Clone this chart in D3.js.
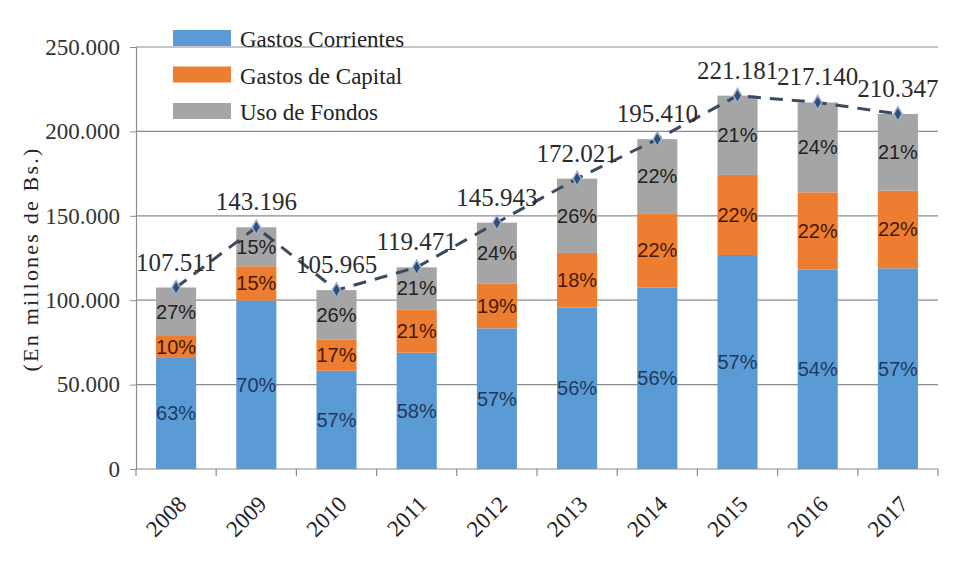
<!DOCTYPE html>
<html>
<head>
<meta charset="utf-8">
<script src="https://cdn.jsdelivr.net/npm/d3@7"></script>
<style>
  body { margin: 0; background: #fff; }
  svg { display: block; }
  .serif { font-family: "Liberation Serif", "Times New Roman", "DejaVu Serif", serif; }
  .sans { font-family: "Liberation Sans", Arial, sans-serif; }
</style>
</head>
<body>
<div id="chart"></div>
<script>
const years = ["2008", "2009", "2010", "2011", "2012", "2013", "2014", "2015", "2016", "2017"];
const seriesNames = ["Gastos Corrientes", "Gastos de Capital", "Uso de Fondos"];
const corrientes = [65800, 99800, 58200, 68900, 83300, 95600, 107600, 126800, 118300, 118900];
const capital = [13000, 20300, 18600, 25700, 26700, 32400, 43900, 47400, 45600, 46000];
const fondos = [28711, 23096, 29165, 24871, 35943, 44021, 43910, 46981, 53240, 45447];
const totals = [107511, 143196, 105965, 119471, 145943, 172021, 195410, 221181, 217140, 210347];
const pctCorrientes = ["63%", "70%", "57%", "58%", "57%", "56%", "56%", "57%", "54%", "57%"];
const pctCapital = ["10%", "15%", "17%", "21%", "19%", "18%", "22%", "22%", "22%", "22%"];
const pctFondos = ["27%", "15%", "26%", "21%", "24%", "26%", "22%", "21%", "24%", "21%"];
const yTicks = [0, 50000, 100000, 150000, 200000, 250000];

const colors = ["#5b9bd5", "#ed7d31", "#a5a5a5"];
const textColors = ["#1f3a60", "#4a1800", "#222222"];

const W = 980, H = 567;
const margin = { top: 47, right: 42, bottom: 98, left: 136 };
const width = W - margin.left - margin.right;
const height = H - margin.top - margin.bottom;

const fmt = d3.formatLocale({ decimal: ",", thousands: ".", grouping: [3], currency: ["", ""] }).format(",");

const svg = d3.select("#chart").append("svg")
    .attr("width", W)
    .attr("height", H);

const g = svg.append("g")
    .attr("transform", `translate(${margin.left},${margin.top})`);

const x = d3.scaleBand()
    .domain(years)
    .range([0, width])
    .paddingInner(0.5)
    .paddingOuter(0.25);

const y = d3.scaleLinear()
    .domain([0, 250000])
    .range([height, 0]);

// gridlines
g.append("g")
    .selectAll("line")
    .data(yTicks.filter(d => d > 0))
    .join("line")
    .attr("x1", 0)
    .attr("x2", width)
    .attr("y1", d => y(d))
    .attr("y2", d => y(d))
    .attr("stroke", "#8c8c8c")
    .attr("stroke-width", 1.2);

// stacked data
const rows = years.map((yr, i) => ({
    year: yr,
    "Gastos Corrientes": corrientes[i],
    "Gastos de Capital": capital[i],
    "Uso de Fondos": fondos[i]
}));
const pcts = [pctCorrientes, pctCapital, pctFondos];
const stacked = d3.stack().keys(seriesNames)(rows);

const layers = g.selectAll("g.layer")
    .data(stacked)
    .join("g")
    .attr("class", "layer")
    .attr("fill", (d, i) => colors[i]);

layers.selectAll("rect")
    .data(d => d)
    .join("rect")
    .attr("x", d => x(d.data.year))
    .attr("y", d => y(d[1]))
    .attr("width", x.bandwidth())
    .attr("height", d => y(d[0]) - y(d[1]));

// percentage labels
stacked.forEach((layer, li) => {
    g.append("g")
        .selectAll("text")
        .data(layer)
        .join("text")
        .attr("class", "sans")
        .attr("x", d => x(d.data.year) + x.bandwidth() / 2)
        .attr("y", d => (y(d[0]) + y(d[1])) / 2)
        .attr("dy", "0.35em")
        .attr("text-anchor", "middle")
        .attr("font-size", 20)
        .attr("fill", textColors[li])
        .text((d, i) => pcts[li][i]);
});

// axes
const yAxis = g.append("g")
    .call(d3.axisLeft(y).tickValues(yTicks).tickSize(6).tickFormat(d => d === 0 ? "0" : fmt(d)));
yAxis.attr("font-family", null);
yAxis.select(".domain").attr("stroke", "#8c8c8c").attr("stroke-width", 1.2);
yAxis.selectAll(".tick line").attr("stroke", "#8c8c8c");
yAxis.selectAll(".tick text")
    .attr("class", "serif")
    .attr("font-size", 23)
    .attr("fill", "#333")
    .attr("x", -16);

const xAxis = g.append("g")
    .attr("transform", `translate(0,${height})`);
xAxis.append("line")
    .attr("x1", 0).attr("x2", width)
    .attr("stroke", "#8c8c8c").attr("stroke-width", 1.2);
xAxis.selectAll("line.tk")
    .data(d3.range(years.length + 1))
    .join("line")
    .attr("class", "tk")
    .attr("x1", i => i * x.step())
    .attr("x2", i => i * x.step())
    .attr("y1", 0).attr("y2", 7)
    .attr("stroke", "#8c8c8c").attr("stroke-width", 1.2);
xAxis.selectAll("text")
    .data(years)
    .join("text")
    .attr("class", "serif")
    .attr("transform", d => `translate(${x(d) + x.bandwidth() / 2 + 6},${31}) rotate(-45)`)
    .attr("text-anchor", "end")
    .attr("dy", "0.35em")
    .attr("font-size", 23)
    .attr("fill", "#222")
    .text(d => d);

// y axis title
svg.append("text")
    .attr("class", "serif")
    .attr("transform", `translate(30,${margin.top + 212}) rotate(-90)`)
    .attr("text-anchor", "middle")
    .attr("dy", "0.35em")
    .attr("font-size", 22)
    .attr("letter-spacing", 2.2)
    .attr("fill", "#222")
    .text("(En millones de Bs.)");

// total line
const cx = i => x(years[i]) + x.bandwidth() / 2;
const line = d3.line()
    .x((d, i) => cx(i))
    .y(d => y(d));

g.append("path")
    .datum(totals)
    .attr("d", line)
    .attr("fill", "none")
    .attr("stroke", "#3b4a5e")
    .attr("stroke-width", 3)
    .attr("stroke-dasharray", "13,9");

g.append("g")
    .selectAll("path")
    .data(totals)
    .join("path")
    .attr("transform", (d, i) => `translate(${cx(i)},${y(d)})`)
    .attr("d", d3.symbol(d3.symbolDiamond, 60))
    .attr("fill", "#2e4f7a")
    .attr("stroke", "#9bb0cc")
    .attr("stroke-width", 1.5);

g.append("g")
    .selectAll("text")
    .data(totals)
    .join("text")
    .attr("class", "serif")
    .attr("x", (d, i) => cx(i))
    .attr("y", d => y(d) - 17)
    .attr("text-anchor", "middle")
    .attr("font-size", 25)
    .attr("fill", "#2b2b2b")
    .text(d => fmt(d));

// legend
const legend = svg.append("g")
    .attr("transform", "translate(173,30)");
const li = legend.selectAll("g")
    .data(seriesNames)
    .join("g")
    .attr("transform", (d, i) => `translate(0,${i * 36.5})`);
li.append("rect")
    .attr("width", 58)
    .attr("height", 16)
    .attr("fill", (d, i) => colors[i]);
li.append("text")
    .attr("class", "serif")
    .attr("x", 67)
    .attr("y", 17)
    .attr("font-size", 23)
    .attr("fill", "#222")
    .text(d => d);
</script>
</body>
</html>
